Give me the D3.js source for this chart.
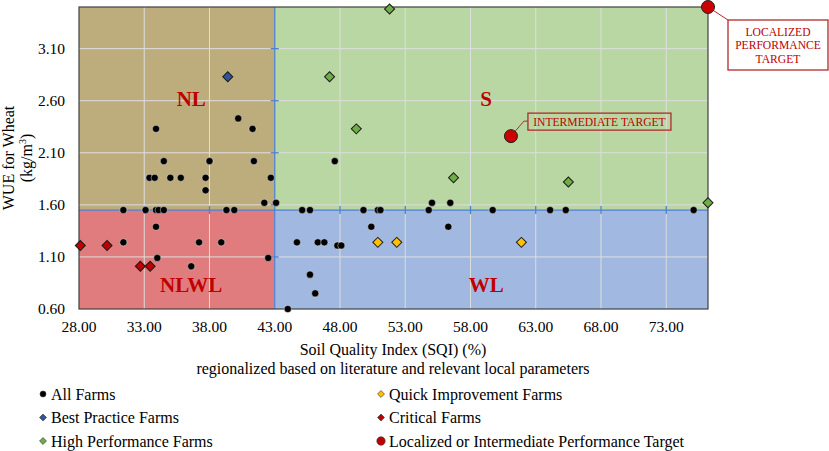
<!DOCTYPE html>
<html>
<head>
<meta charset="utf-8">
<script src="https://d3js.org/d3.v7.min.js"></script>
<style>
    body { margin: 0; background: #fff; }
    svg text { font-family: "Liberation Serif", "Times New Roman", serif; fill: #000; }
</style>
</head>
<body>
<svg id="chart" width="829" height="451"></svg>
<script>
// --- data ---
const xTicks = [28, 33, 38, 43, 48, 53, 58, 63, 68, 73];
const yTicks = [0.6, 1.1, 1.6, 2.1, 2.6, 3.1];

const allFarms = [
    [33.9, 2.33], [40.2, 2.43], [41.3, 2.33], [34.5, 2.02], [38.0, 2.02], [41.4, 2.02],
    [33.4, 1.86], [33.8, 1.86], [35.0, 1.86], [35.8, 1.86], [37.7, 1.86], [42.7, 1.86],
    [37.7, 1.74], [42.2, 1.62], [43.1, 1.62],
    [31.4, 1.55], [33.1, 1.55], [33.9, 1.55], [34.1, 1.55], [34.5, 1.55], [39.3, 1.55], [39.9, 1.55],
    [33.9, 1.39], [31.4, 1.24], [37.2, 1.24], [38.9, 1.24], [34.0, 1.09], [36.6, 1.01], [42.5, 1.09],
    [47.6, 2.02], [55.05, 1.62], [56.45, 1.62],
    [45.1, 1.55], [45.7, 1.55], [49.8, 1.55], [50.9, 1.55], [51.1, 1.55], [54.8, 1.55],
    [59.7, 1.55], [64.1, 1.55], [65.3, 1.55], [75.1, 1.55],
    [50.4, 1.39], [56.3, 1.39], [44.7, 1.24], [46.3, 1.24], [46.8, 1.24], [47.8, 1.21], [48.1, 1.21],
    [45.7, 0.93], [46.1, 0.75], [44.0, 0.60]
];
const bestPractice = [[39.4, 2.83]];
const highPerformance = [[51.8, 3.48], [47.2, 2.83], [49.25, 2.33], [56.7, 1.86], [65.5, 1.82], [76.2, 1.62]];
const quickImprovement = [[50.9, 1.24], [52.35, 1.24], [61.9, 1.24]];
const critical = [[28.1, 1.21], [30.15, 1.21], [32.7, 1.01], [33.45, 1.01]];
const targets = [[61.1, 2.26], [76.2, 3.5]];
const targetLabels = [["INTERMEDIATE TARGET"], ["LOCALIZED", "PERFORMANCE", "TARGET"]];

const xSplit = 43, ySplit = 1.55;
const xMin = 28, xMax = 76.2, yMin = 0.6, yMax = 3.5;

const quadrants = [
    { name: "NL",   x0: xMin,   x1: xSplit, y0: ySplit, y1: yMax,   fill: "#bead7c", lx: 36.6, ly: 2.6 },
    { name: "S",    x0: xSplit, x1: xMax,   y0: ySplit, y1: yMax,   fill: "#b8d7a3", lx: 59.2, ly: 2.6 },
    { name: "NLWL", x0: xMin,   x1: xSplit, y0: yMin,   y1: ySplit, fill: "#e07c7d", lx: 36.6, ly: 0.81 },
    { name: "WL",   x0: xSplit, x1: xMax,   y0: yMin,   y1: ySplit, fill: "#a1b8e1", lx: 59.2, ly: 0.81 }
];

const legendItems = [
    { label: "All Farms", shape: "circle", color: "#000" },
    { label: "Quick Improvement Farms", shape: "diamond", color: "#ffc000" },
    { label: "Best Practice Farms", shape: "diamond", color: "#2f5597" },
    { label: "Critical Farms", shape: "diamond", color: "#c00000" },
    { label: "High Performance Farms", shape: "diamond", color: "#70ad47" },
    { label: "Localized or Intermediate Performance Target", shape: "circle", color: "#c00000" }
];

// --- layout ---
const plot = { left: 79, right: 708, top: 7, bottom: 309 };
const svg = d3.select("#chart");

const x = d3.scaleLinear().domain([xMin, xMax]).range([plot.left, plot.right]);
const y = d3.scaleLinear().domain([yMin, yMax]).range([plot.bottom, plot.top]);

// quadrant backgrounds
svg.append("g").selectAll("rect")
    .data(quadrants)
    .join("rect")
    .attr("x", d => x(d.x0))
    .attr("y", d => y(d.y1))
    .attr("width", d => x(d.x1) - x(d.x0))
    .attr("height", d => y(d.y0) - y(d.y1))
    .attr("fill", d => d.fill);

// gridlines
const grid = svg.append("g").attr("stroke", "#dedede").attr("stroke-width", 1);
grid.selectAll("line.gx")
    .data(xTicks.slice(1))
    .join("line")
    .attr("x1", d => x(d)).attr("x2", d => x(d))
    .attr("y1", plot.top).attr("y2", plot.bottom);
grid.selectAll("line.gy")
    .data(yTicks.slice(1))
    .join("line")
    .attr("x1", plot.left).attr("x2", plot.right)
    .attr("y1", d => y(d)).attr("y2", d => y(d));

// crossing axes (blue) with tick marks
const cross = svg.append("g").attr("stroke", "#4f7fd0").attr("stroke-width", 1.3);
cross.append("line")
    .attr("x1", x(xSplit)).attr("x2", x(xSplit))
    .attr("y1", plot.top).attr("y2", plot.bottom);
cross.append("line")
    .attr("x1", plot.left).attr("x2", plot.right)
    .attr("y1", y(ySplit)).attr("y2", y(ySplit));
cross.selectAll("line.ty")
    .data(yTicks.filter(v => v > yMin))
    .join("line")
    .attr("x1", x(xSplit) - 4).attr("x2", x(xSplit) + 4)
    .attr("y1", d => y(d)).attr("y2", d => y(d));
cross.selectAll("line.tx")
    .data(xTicks.filter(v => v !== xSplit && v > xMin))
    .join("line")
    .attr("x1", d => x(d)).attr("x2", d => x(d))
    .attr("y1", y(ySplit) - 4).attr("y2", y(ySplit) + 4);

// plot border
svg.append("rect")
    .attr("x", plot.left).attr("y", plot.top)
    .attr("width", plot.right - plot.left).attr("height", plot.bottom - plot.top)
    .attr("fill", "none").attr("stroke", "#404040").attr("stroke-width", 1.2);

// quadrant labels
svg.append("g").selectAll("text")
    .data(quadrants)
    .join("text")
    .attr("x", d => x(d.lx))
    .attr("y", d => y(d.ly))
    .attr("text-anchor", "middle")
    .attr("dominant-baseline", "middle")
    .style("font-size", "21px")
    .style("font-weight", "bold")
    .style("fill", "#c00000")
    .text(d => d.name);

// axis tick labels
svg.append("g").selectAll("text")
    .data(xTicks)
    .join("text")
    .attr("x", d => x(d))
    .attr("y", 332)
    .attr("text-anchor", "middle")
    .style("font-size", "15.5px")
    .text(d => d3.format(".2f")(d));
svg.append("g").selectAll("text")
    .data(yTicks)
    .join("text")
    .attr("x", 65)
    .attr("y", d => y(d) + 5)
    .attr("text-anchor", "end")
    .style("font-size", "15.5px")
    .text(d => d3.format(".2f")(d));

// axis titles
const yTitle = svg.append("text")
    .attr("transform", "translate(0,158) rotate(-90)")
    .attr("text-anchor", "middle")
    .style("font-size", "16px");
yTitle.append("tspan").attr("x", 0).attr("y", 14).text("WUE for Wheat");
const unit = yTitle.append("tspan").attr("x", 0).attr("y", 32).text("(kg/m");
unit.append("tspan").attr("dy", -6).style("font-size", "10px").text("3");
unit.append("tspan").attr("dy", 6).text(")");

svg.append("text")
    .attr("x", 393).attr("y", 355)
    .attr("text-anchor", "middle")
    .style("font-size", "16px")
    .text("Soil Quality Index (SQI) (%)");
svg.append("text")
    .attr("x", 393).attr("y", 374)
    .attr("text-anchor", "middle")
    .style("font-size", "16px")
    .text("regionalized based on literature and relevant local parameters");

// markers
const diamond = d3.symbol().type(d3.symbolSquare).size(50);

svg.append("g").selectAll("circle")
    .data(allFarms)
    .join("circle")
    .attr("cx", d => x(d[0]))
    .attr("cy", d => y(d[1]))
    .attr("r", 3.6)
    .attr("fill", "#000")
    .attr("stroke", "rgba(255,255,255,0.55)")
    .attr("stroke-width", 0.8);

function drawDiamonds(data, color) {
    svg.append("g").selectAll("path")
        .data(data)
        .join("path")
        .attr("d", diamond)
        .attr("transform", d => `translate(${x(d[0])},${y(d[1])}) rotate(45)`)
        .attr("fill", color)
        .attr("stroke", "#1a1a1a")
        .attr("stroke-width", 1);
}
drawDiamonds(quickImprovement, "#ffc000");
drawDiamonds(critical, "#c00000");
drawDiamonds(highPerformance, "#70ad47");
drawDiamonds(bestPractice, "#2f5597");

// target callouts
const callouts = [
    { box: [17, -23, 143, 17], elbow: [13, -15] },
    { box: [20, 13, 100, 50], elbow: null }
];
const callG = svg.append("g");
targets.forEach((t, i) => {
    const px = x(t[0]), py = y(t[1]);
    const c = callouts[i];
    const bx = px + c.box[0], by = py + c.box[1];
    const pts = c.elbow
        ? [[px, py], [px + c.elbow[0], py + c.elbow[1]], [bx, py + c.elbow[1]]]
        : [[px, py], [bx, by]];
    callG.append("path")
        .attr("d", d3.line()(pts))
        .attr("fill", "none")
        .attr("stroke", "#b22a2a")
        .attr("stroke-width", 1);
    callG.append("rect")
        .attr("x", bx).attr("y", by)
        .attr("width", c.box[2]).attr("height", c.box[3])
        .attr("fill", i === 0 ? "none" : "#fff")
        .attr("stroke", "#b22a2a")
        .attr("stroke-width", 1.3);
    const lines = targetLabels[i];
    lines.forEach((s, j) => {
        callG.append("text")
            .attr("x", bx + c.box[2] / 2)
            .attr("y", by + c.box[3] / 2 + (j - (lines.length - 1) / 2) * 13.5 + 4)
            .attr("text-anchor", "middle")
            .style("font-size", "11.6px")
            .style("fill", "#c00000")
            .text(s);
    });
});

svg.append("g").selectAll("circle")
    .data(targets)
    .join("circle")
    .attr("cx", d => x(d[0]))
    .attr("cy", d => y(d[1]))
    .attr("r", 6.5)
    .attr("fill", "#cc0000")
    .attr("stroke", "#222")
    .attr("stroke-width", 1);

// legend
const legend = svg.append("g").selectAll("g")
    .data(legendItems)
    .join("g")
    .attr("transform", (d, i) => `translate(${i % 2 === 0 ? 43 : 381},${394 + Math.floor(i / 2) * 23.5})`);
legend.each(function (d) {
    const g = d3.select(this);
    if (d.shape === "circle") {
        g.append("circle").attr("r", d.color === "#000" ? 3 : 4.2)
            .attr("fill", d.color).attr("stroke", "#333").attr("stroke-width", 0.6);
    } else {
        g.append("path").attr("d", d3.symbol().type(d3.symbolSquare).size(24))
            .attr("transform", "rotate(45)")
            .attr("fill", d.color).attr("stroke", "#333").attr("stroke-width", 0.6);
    }
    g.append("text").attr("x", 8).attr("y", 5.5)
        .style("font-size", "16px")
        .text(d.label);
});
</script>
</body>
</html>
